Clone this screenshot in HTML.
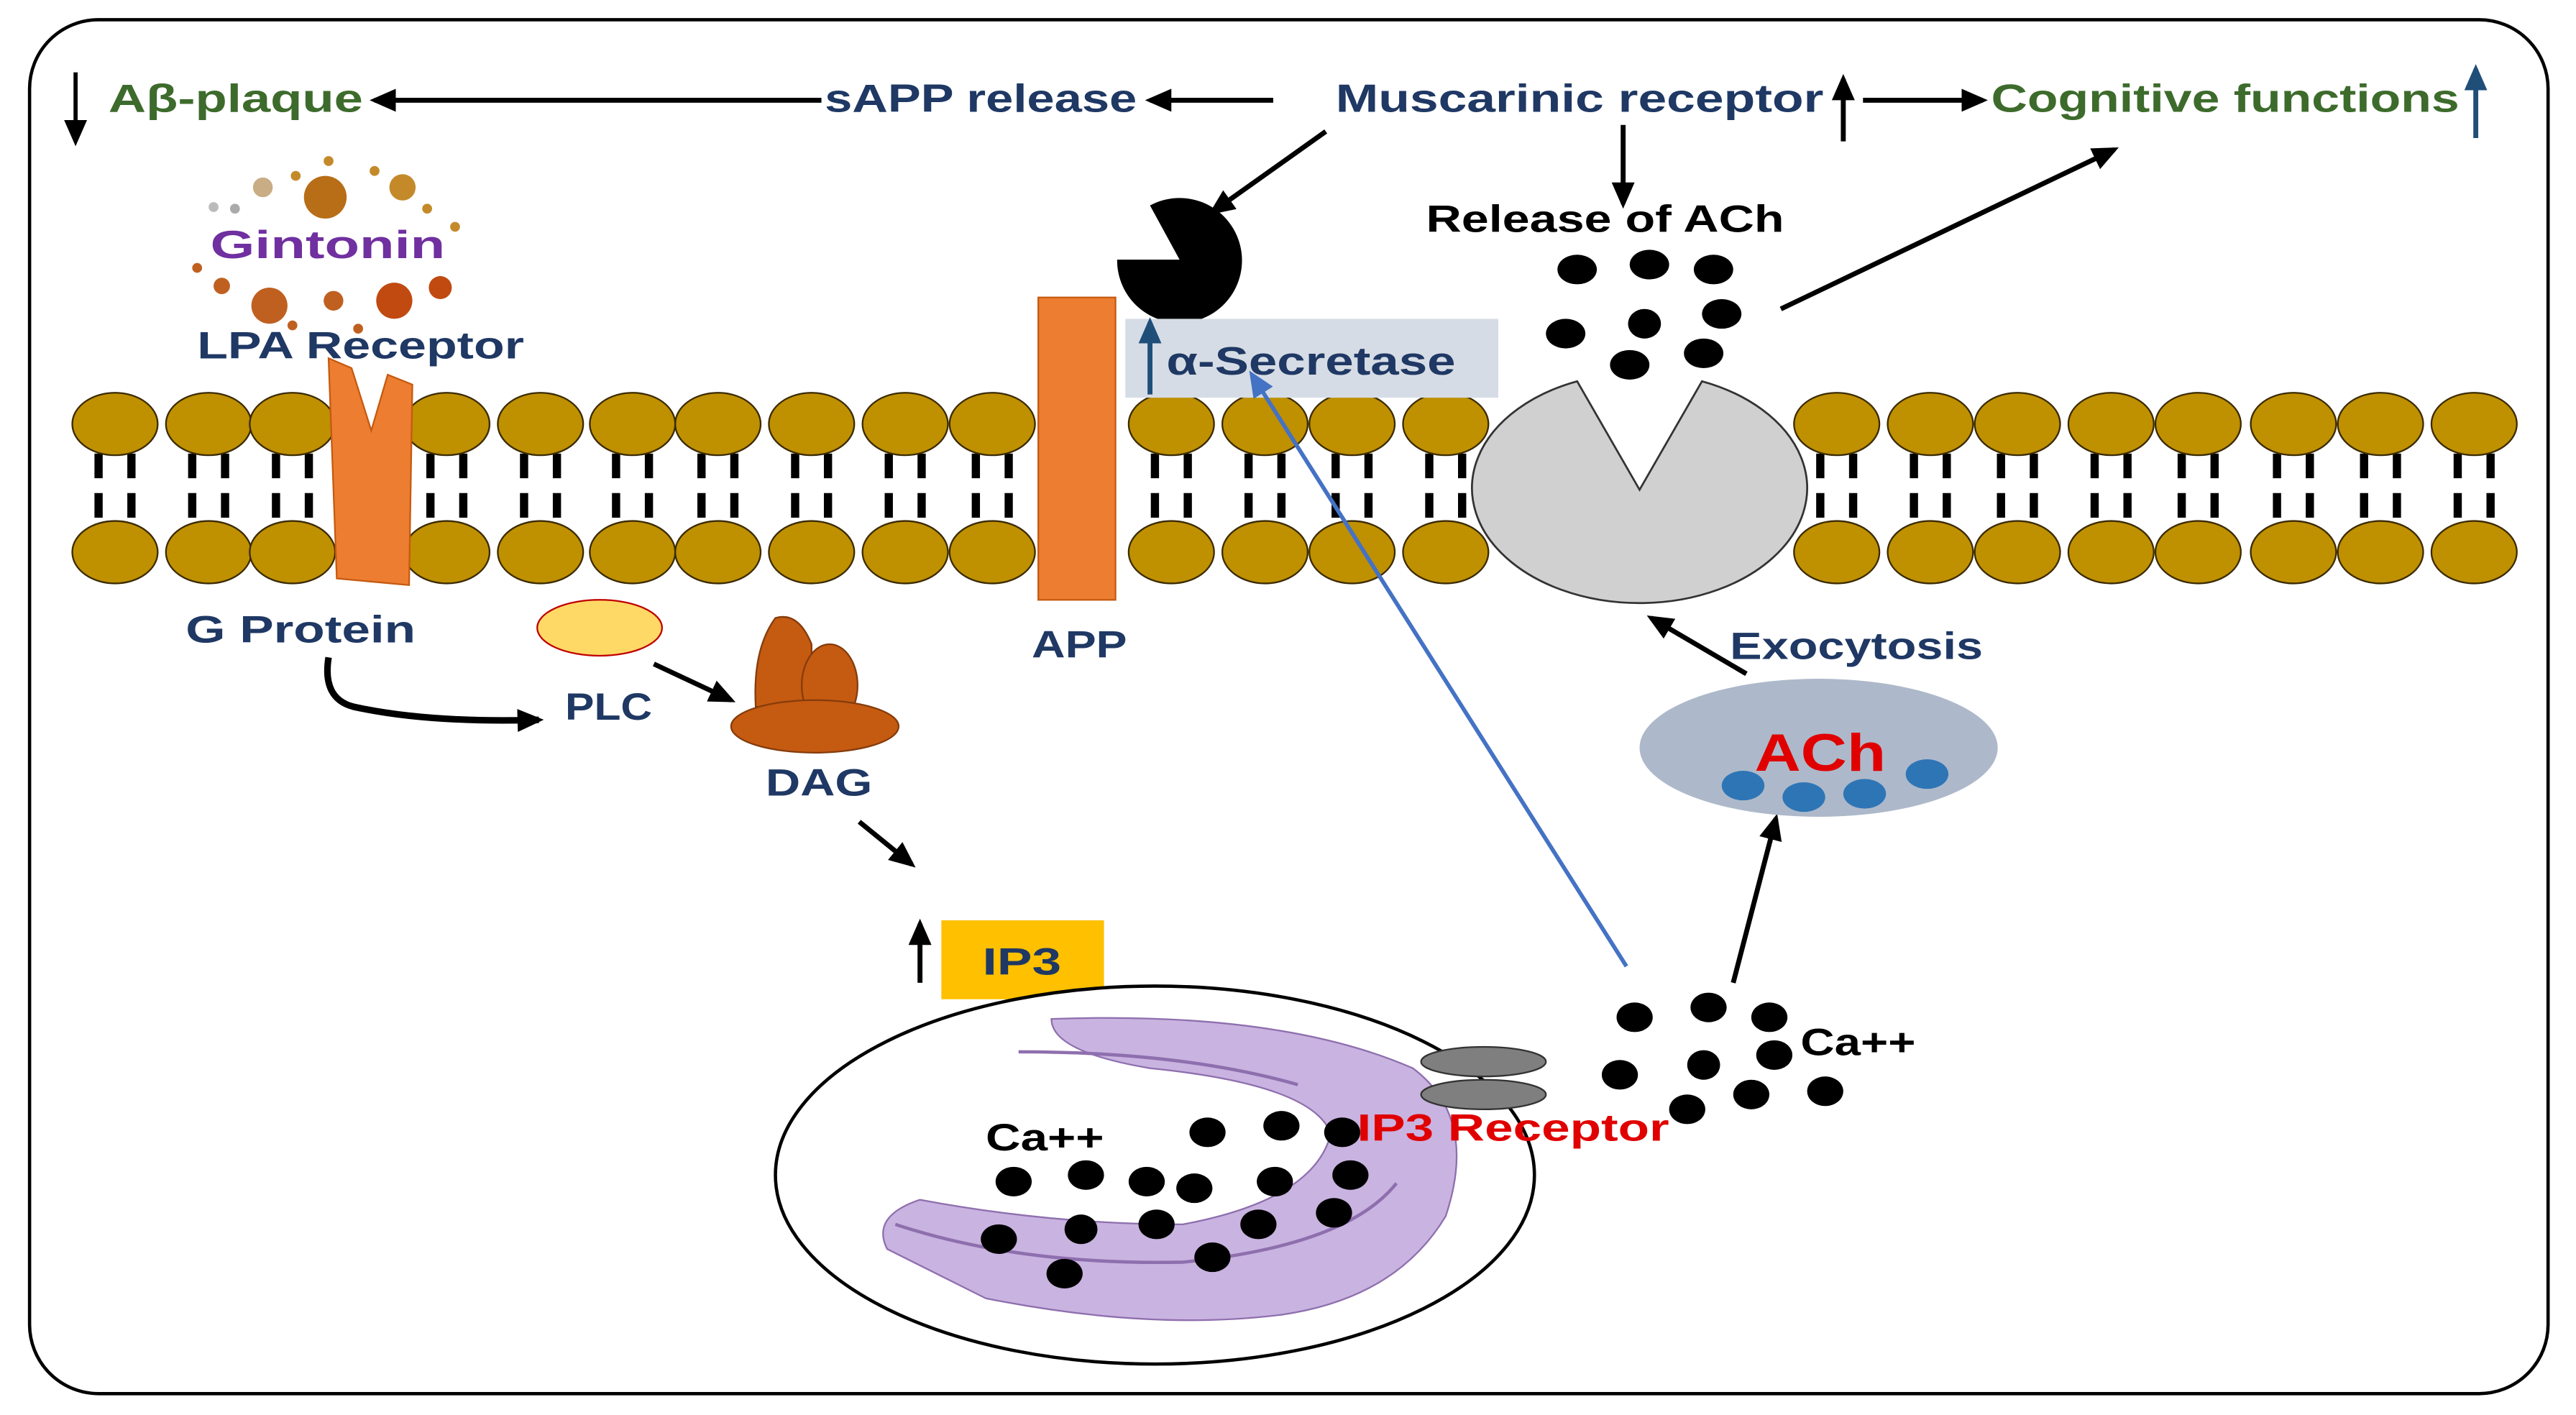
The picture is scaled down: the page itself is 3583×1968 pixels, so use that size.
<!DOCTYPE html>
<html><head><meta charset="utf-8"><style>
html,body{margin:0;padding:0;background:#fff}
svg{display:block}
text{font-family:"Liberation Sans",sans-serif;font-weight:bold}
</style></head><body>
<svg width="3583" height="1968" viewBox="0 0 1568 861" preserveAspectRatio="none" xmlns="http://www.w3.org/2000/svg">
<defs>
<marker id="ab" markerWidth="16" markerHeight="14" refX="13" refY="7" orient="auto" markerUnits="userSpaceOnUse"><path d="M0,0 L16,7 L0,14 Z" fill="#000"/></marker>
<marker id="abl" markerWidth="16" markerHeight="14" refX="13" refY="7" orient="auto" markerUnits="userSpaceOnUse"><path d="M0,0 L16,7 L0,14 Z" fill="#4472c4"/></marker>
<marker id="atl" markerWidth="16" markerHeight="14" refX="13" refY="7" orient="auto" markerUnits="userSpaceOnUse"><path d="M0,0 L16,7 L0,14 Z" fill="#1f4e79"/></marker>
</defs>
<rect x="18" y="12" width="1533" height="836" rx="42" fill="#fff" stroke="#000" stroke-width="2"/>

<g lengthAdjust="spacingAndGlyphs">
<line x1="46" y1="44" x2="46" y2="86" stroke="#000" stroke-width="2.5" marker-end="url(#ab)"/>
<text x="66" y="68" font-size="24" fill="#3d6b2c" textLength="155" lengthAdjust="spacingAndGlyphs">Aβ-plaque</text>
<line x1="500" y1="61" x2="228" y2="61" stroke="#000" stroke-width="3" marker-end="url(#ab)"/>
<text x="502" y="68" font-size="24" fill="#1f3864" textLength="190" lengthAdjust="spacingAndGlyphs">sAPP release</text>
<line x1="775" y1="61" x2="700" y2="61" stroke="#000" stroke-width="3" marker-end="url(#ab)"/>
<text x="813" y="68" font-size="24" fill="#1f3864" textLength="297" lengthAdjust="spacingAndGlyphs">Muscarinic receptor</text>
<line x1="1122" y1="86" x2="1122" y2="48" stroke="#000" stroke-width="3" marker-end="url(#ab)"/>
<line x1="1134" y1="61" x2="1207" y2="61" stroke="#000" stroke-width="3" marker-end="url(#ab)"/>
<text x="1212" y="68" font-size="24" fill="#3d6b2c" textLength="285" lengthAdjust="spacingAndGlyphs">Cognitive functions</text>
<line x1="1507" y1="84" x2="1507" y2="42" stroke="#1f4e79" stroke-width="3" marker-end="url(#atl)"/>

<line x1="807" y1="80" x2="738" y2="129" stroke="#000" stroke-width="3" marker-end="url(#ab)"/>
<line x1="988" y1="76" x2="988" y2="124" stroke="#000" stroke-width="3" marker-end="url(#ab)"/>
<line x1="1084" y1="188" x2="1287" y2="91" stroke="#000" stroke-width="3" marker-end="url(#ab)"/>
<text x="868" y="141" font-size="23" fill="#000" textLength="218" lengthAdjust="spacingAndGlyphs">Release of ACh</text>

<path d="M718,158 L680,158 A38,38 0 1 0 700,125 Z" fill="#000"/>

<g>
<circle cx="200" cy="98" r="3" fill="#c48a2a"/><circle cx="180" cy="107" r="3" fill="#c48a2a"/><circle cx="160" cy="114" r="6" fill="#c8ad85"/>
<circle cx="198" cy="120" r="13" fill="#b86d17"/><circle cx="228" cy="104" r="3" fill="#c48a2a"/><circle cx="245" cy="114" r="8" fill="#c48a2a"/>
<circle cx="260" cy="127" r="3" fill="#c48a2a"/><circle cx="277" cy="138" r="3" fill="#c48a2a"/><circle cx="143" cy="127" r="3" fill="#aaa"/>
<circle cx="130" cy="126" r="3" fill="#bbb"/><circle cx="120" cy="163" r="3" fill="#c06020"/><circle cx="135" cy="174" r="5" fill="#c06020"/>
<circle cx="164" cy="186" r="11" fill="#c06020"/><circle cx="203" cy="183" r="6" fill="#c06020"/><circle cx="240" cy="183" r="11" fill="#c04a10"/>
<circle cx="268" cy="175" r="7" fill="#c04a10"/><circle cx="178" cy="198" r="3" fill="#c06020"/><circle cx="218" cy="200" r="3" fill="#c06020"/>
</g>
<text x="128" y="157" font-size="24" fill="#7030a0" textLength="143" lengthAdjust="spacingAndGlyphs">Gintonin</text>
</g>

<g stroke="#000" stroke-width="5" stroke-dasharray="15,9">
<line x1="60" y1="276" x2="60" y2="320"/><line x1="80" y1="276" x2="80" y2="320"/>
<line x1="117" y1="276" x2="117" y2="320"/><line x1="137" y1="276" x2="137" y2="320"/>
<line x1="168" y1="276" x2="168" y2="320"/><line x1="188" y1="276" x2="188" y2="320"/>
<line x1="262" y1="276" x2="262" y2="320"/><line x1="282" y1="276" x2="282" y2="320"/>
<line x1="319" y1="276" x2="319" y2="320"/><line x1="339" y1="276" x2="339" y2="320"/>
<line x1="375" y1="276" x2="375" y2="320"/><line x1="395" y1="276" x2="395" y2="320"/>
<line x1="427" y1="276" x2="427" y2="320"/><line x1="447" y1="276" x2="447" y2="320"/>
<line x1="484" y1="276" x2="484" y2="320"/><line x1="504" y1="276" x2="504" y2="320"/>
<line x1="541" y1="276" x2="541" y2="320"/><line x1="561" y1="276" x2="561" y2="320"/>
<line x1="594" y1="276" x2="594" y2="320"/><line x1="614" y1="276" x2="614" y2="320"/>
<line x1="703" y1="276" x2="703" y2="320"/><line x1="723" y1="276" x2="723" y2="320"/>
<line x1="760" y1="276" x2="760" y2="320"/><line x1="780" y1="276" x2="780" y2="320"/>
<line x1="813" y1="276" x2="813" y2="320"/><line x1="833" y1="276" x2="833" y2="320"/>
<line x1="870" y1="276" x2="870" y2="320"/><line x1="890" y1="276" x2="890" y2="320"/>
<line x1="1108" y1="276" x2="1108" y2="320"/><line x1="1128" y1="276" x2="1128" y2="320"/>
<line x1="1165" y1="276" x2="1165" y2="320"/><line x1="1185" y1="276" x2="1185" y2="320"/>
<line x1="1218" y1="276" x2="1218" y2="320"/><line x1="1238" y1="276" x2="1238" y2="320"/>
<line x1="1275" y1="276" x2="1275" y2="320"/><line x1="1295" y1="276" x2="1295" y2="320"/>
<line x1="1328" y1="276" x2="1328" y2="320"/><line x1="1348" y1="276" x2="1348" y2="320"/>
<line x1="1386" y1="276" x2="1386" y2="320"/><line x1="1406" y1="276" x2="1406" y2="320"/>
<line x1="1439" y1="276" x2="1439" y2="320"/><line x1="1459" y1="276" x2="1459" y2="320"/>
<line x1="1496" y1="276" x2="1496" y2="320"/><line x1="1516" y1="276" x2="1516" y2="320"/>
</g>
<g fill="#bf9000" stroke="#3a2a00" stroke-width="1">
<ellipse cx="70" cy="258" rx="26" ry="19"/><ellipse cx="127" cy="258" rx="26" ry="19"/><ellipse cx="178" cy="258" rx="26" ry="19"/>
<ellipse cx="272" cy="258" rx="26" ry="19"/><ellipse cx="329" cy="258" rx="26" ry="19"/><ellipse cx="385" cy="258" rx="26" ry="19"/>
<ellipse cx="437" cy="258" rx="26" ry="19"/><ellipse cx="494" cy="258" rx="26" ry="19"/><ellipse cx="551" cy="258" rx="26" ry="19"/>
<ellipse cx="604" cy="258" rx="26" ry="19"/><ellipse cx="713" cy="258" rx="26" ry="19"/><ellipse cx="770" cy="258" rx="26" ry="19"/>
<ellipse cx="823" cy="258" rx="26" ry="19"/><ellipse cx="880" cy="258" rx="26" ry="19"/>
<ellipse cx="1118" cy="258" rx="26" ry="19"/><ellipse cx="1175" cy="258" rx="26" ry="19"/><ellipse cx="1228" cy="258" rx="26" ry="19"/>
<ellipse cx="1285" cy="258" rx="26" ry="19"/><ellipse cx="1338" cy="258" rx="26" ry="19"/><ellipse cx="1396" cy="258" rx="26" ry="19"/>
<ellipse cx="1449" cy="258" rx="26" ry="19"/><ellipse cx="1506" cy="258" rx="26" ry="19"/>
<ellipse cx="70" cy="336" rx="26" ry="19"/><ellipse cx="127" cy="336" rx="26" ry="19"/><ellipse cx="178" cy="336" rx="26" ry="19"/>
<ellipse cx="272" cy="336" rx="26" ry="19"/><ellipse cx="329" cy="336" rx="26" ry="19"/><ellipse cx="385" cy="336" rx="26" ry="19"/>
<ellipse cx="437" cy="336" rx="26" ry="19"/><ellipse cx="494" cy="336" rx="26" ry="19"/><ellipse cx="551" cy="336" rx="26" ry="19"/>
<ellipse cx="604" cy="336" rx="26" ry="19"/><ellipse cx="713" cy="336" rx="26" ry="19"/><ellipse cx="770" cy="336" rx="26" ry="19"/>
<ellipse cx="823" cy="336" rx="26" ry="19"/><ellipse cx="880" cy="336" rx="26" ry="19"/>
<ellipse cx="1118" cy="336" rx="26" ry="19"/><ellipse cx="1175" cy="336" rx="26" ry="19"/><ellipse cx="1228" cy="336" rx="26" ry="19"/>
<ellipse cx="1285" cy="336" rx="26" ry="19"/><ellipse cx="1338" cy="336" rx="26" ry="19"/><ellipse cx="1396" cy="336" rx="26" ry="19"/>
<ellipse cx="1449" cy="336" rx="26" ry="19"/><ellipse cx="1506" cy="336" rx="26" ry="19"/>
</g>

<path d="M200,218 L214,224 L226,262 L236,228 L251,234 L249,356 L205,352 Z" fill="#ed7d31" stroke="#c55a11" stroke-width="1"/>
<text x="120" y="218" font-size="23" fill="#1f3864" textLength="199" lengthAdjust="spacingAndGlyphs">LPA Receptor</text>

<rect x="632" y="181" width="47" height="184" fill="#ed7d31" stroke="#c55a11" stroke-width="1"/>
<text x="628" y="400" font-size="23" fill="#1f3864" textLength="58" lengthAdjust="spacingAndGlyphs">APP</text>

<rect x="685" y="194" width="227" height="48" fill="#d6dce5"/>
<line x1="700" y1="240" x2="700" y2="196" stroke="#1f4e79" stroke-width="3" marker-end="url(#atl)"/>
<text x="710" y="228" font-size="24" fill="#1f3864" textLength="176" lengthAdjust="spacingAndGlyphs">α-Secretase</text>

<path d="M960,232 L998,298 L1036,232 A102,70 0 1 1 960,232 Z" fill="#d0d0d0" stroke="#333" stroke-width="1.2"/>
<g fill="#000">
<ellipse cx="960" cy="164" rx="12" ry="9"/><ellipse cx="1004" cy="161" rx="12" ry="9"/><ellipse cx="1043" cy="164" rx="12" ry="9"/>
<ellipse cx="953" cy="203" rx="12" ry="9"/><ellipse cx="1001" cy="197" rx="10" ry="9"/><ellipse cx="1048" cy="191" rx="12" ry="9"/>
<ellipse cx="992" cy="222" rx="12" ry="9"/><ellipse cx="1037" cy="215" rx="12" ry="9"/>
</g>

<text x="113" y="391" font-size="23" fill="#1f3864" textLength="140" lengthAdjust="spacingAndGlyphs">G Protein</text>
<path d="M200,400 Q196,425 215,430 Q260,440 328,438" fill="none" stroke="#000" stroke-width="4" marker-end="url(#ab)"/>
<text x="344" y="438" font-size="23" fill="#1f3864" textLength="53" lengthAdjust="spacingAndGlyphs">PLC</text>
<ellipse cx="365" cy="382" rx="38" ry="17" fill="#ffd966" stroke="#c00000" stroke-width="1"/>
<line x1="398" y1="404" x2="445" y2="426" stroke="#000" stroke-width="3" marker-end="url(#ab)"/>
<path d="M460,430 Q458,395 472,376 Q486,372 494,392 L494,432 Z" fill="#c55a11" stroke="#843c0c" stroke-width="1"/>
<ellipse cx="505" cy="417" rx="17" ry="25" fill="#c55a11" stroke="#843c0c" stroke-width="1"/>
<ellipse cx="496" cy="442" rx="51" ry="16" fill="#c55a11" stroke="#843c0c" stroke-width="1"/>
<text x="466" y="484" font-size="23" fill="#1f3864" textLength="65" lengthAdjust="spacingAndGlyphs">DAG</text>
<line x1="523" y1="500" x2="555" y2="526" stroke="#000" stroke-width="3" marker-end="url(#ab)"/>

<line x1="560" y1="598" x2="560" y2="562" stroke="#000" stroke-width="3" marker-end="url(#ab)"/>
<rect x="573" y="560" width="99" height="48" fill="#ffc000"/>
<text x="598" y="593" font-size="23" fill="#1f3864" textLength="48" lengthAdjust="spacingAndGlyphs">IP3</text>

<ellipse cx="703" cy="715" rx="231" ry="115" fill="#fff" stroke="#000" stroke-width="2"/>
<g fill="#c9b3e0" stroke="#8e6fae" stroke-width="1">
<path d="M640,620 Q780,615 860,650 Q900,680 880,740 Q850,790 780,800 Q700,810 600,790 L540,760 Q530,740 560,730 Q640,745 720,745 Q800,730 810,690 Q800,660 700,650 Q640,640 640,620 Z"/>
<path d="M545,745 Q620,770 720,768 Q820,758 850,720" fill="none" stroke="#8e6fae" stroke-width="2"/>
<path d="M620,640 Q720,640 790,660" fill="none" stroke="#8e6fae" stroke-width="2"/>
</g>
<text x="600" y="700" font-size="23" fill="#000" textLength="72" lengthAdjust="spacingAndGlyphs">Ca++</text>
<g fill="#000">
<ellipse cx="735" cy="689" rx="11" ry="9"/><ellipse cx="780" cy="685" rx="11" ry="9"/><ellipse cx="817" cy="689" rx="11" ry="9"/>
<ellipse cx="617" cy="719" rx="11" ry="9"/><ellipse cx="661" cy="715" rx="11" ry="9"/><ellipse cx="698" cy="719" rx="11" ry="9"/>
<ellipse cx="727" cy="723" rx="11" ry="9"/><ellipse cx="776" cy="719" rx="11" ry="9"/><ellipse cx="822" cy="715" rx="11" ry="9"/>
<ellipse cx="608" cy="754" rx="11" ry="9"/><ellipse cx="658" cy="748" rx="10" ry="9"/><ellipse cx="704" cy="745" rx="11" ry="9"/>
<ellipse cx="766" cy="745" rx="11" ry="9"/><ellipse cx="812" cy="738" rx="11" ry="9"/><ellipse cx="648" cy="775" rx="11" ry="9"/>
<ellipse cx="738" cy="765" rx="11" ry="9"/>
</g>
<ellipse cx="903" cy="646" rx="38" ry="9" fill="#7f7f7f" stroke="#333" stroke-width="1"/>
<ellipse cx="903" cy="666" rx="38" ry="9" fill="#7f7f7f" stroke="#333" stroke-width="1"/>
<text x="826" y="694" font-size="23" fill="#e00000" textLength="190" lengthAdjust="spacingAndGlyphs">IP3 Receptor</text>

<g fill="#000">
<ellipse cx="995" cy="619" rx="11" ry="9"/><ellipse cx="1040" cy="613" rx="11" ry="9"/><ellipse cx="1077" cy="619" rx="11" ry="9"/>
<ellipse cx="986" cy="654" rx="11" ry="9"/><ellipse cx="1037" cy="648" rx="10" ry="9"/><ellipse cx="1080" cy="642" rx="11" ry="9"/>
<ellipse cx="1027" cy="675" rx="11" ry="9"/><ellipse cx="1066" cy="666" rx="11" ry="9"/><ellipse cx="1111" cy="664" rx="11" ry="9"/>
</g>
<text x="1096" y="642" font-size="23" fill="#000" textLength="70" lengthAdjust="spacingAndGlyphs">Ca++</text>
<line x1="990" y1="588" x2="762" y2="228" stroke="#4472c4" stroke-width="2.5" marker-end="url(#abl)"/>
<line x1="1055" y1="598" x2="1081" y2="498" stroke="#000" stroke-width="3" marker-end="url(#ab)"/>

<ellipse cx="1107" cy="455" rx="109" ry="42" fill="#adb9ca"/>
<text x="1068" y="469" font-size="32" fill="#e00000" textLength="80" lengthAdjust="spacingAndGlyphs">ACh</text>
<g fill="#2e75b6">
<ellipse cx="1061" cy="478" rx="13" ry="9"/><ellipse cx="1098" cy="485" rx="13" ry="9"/><ellipse cx="1135" cy="483" rx="13" ry="9"/><ellipse cx="1173" cy="471" rx="13" ry="9"/>
</g>
<text x="1053" y="401" font-size="23" fill="#1f3864" textLength="154" lengthAdjust="spacingAndGlyphs">Exocytosis</text>
<line x1="1063" y1="410" x2="1005" y2="376" stroke="#000" stroke-width="3" marker-end="url(#ab)"/>
</svg>
</body></html>
